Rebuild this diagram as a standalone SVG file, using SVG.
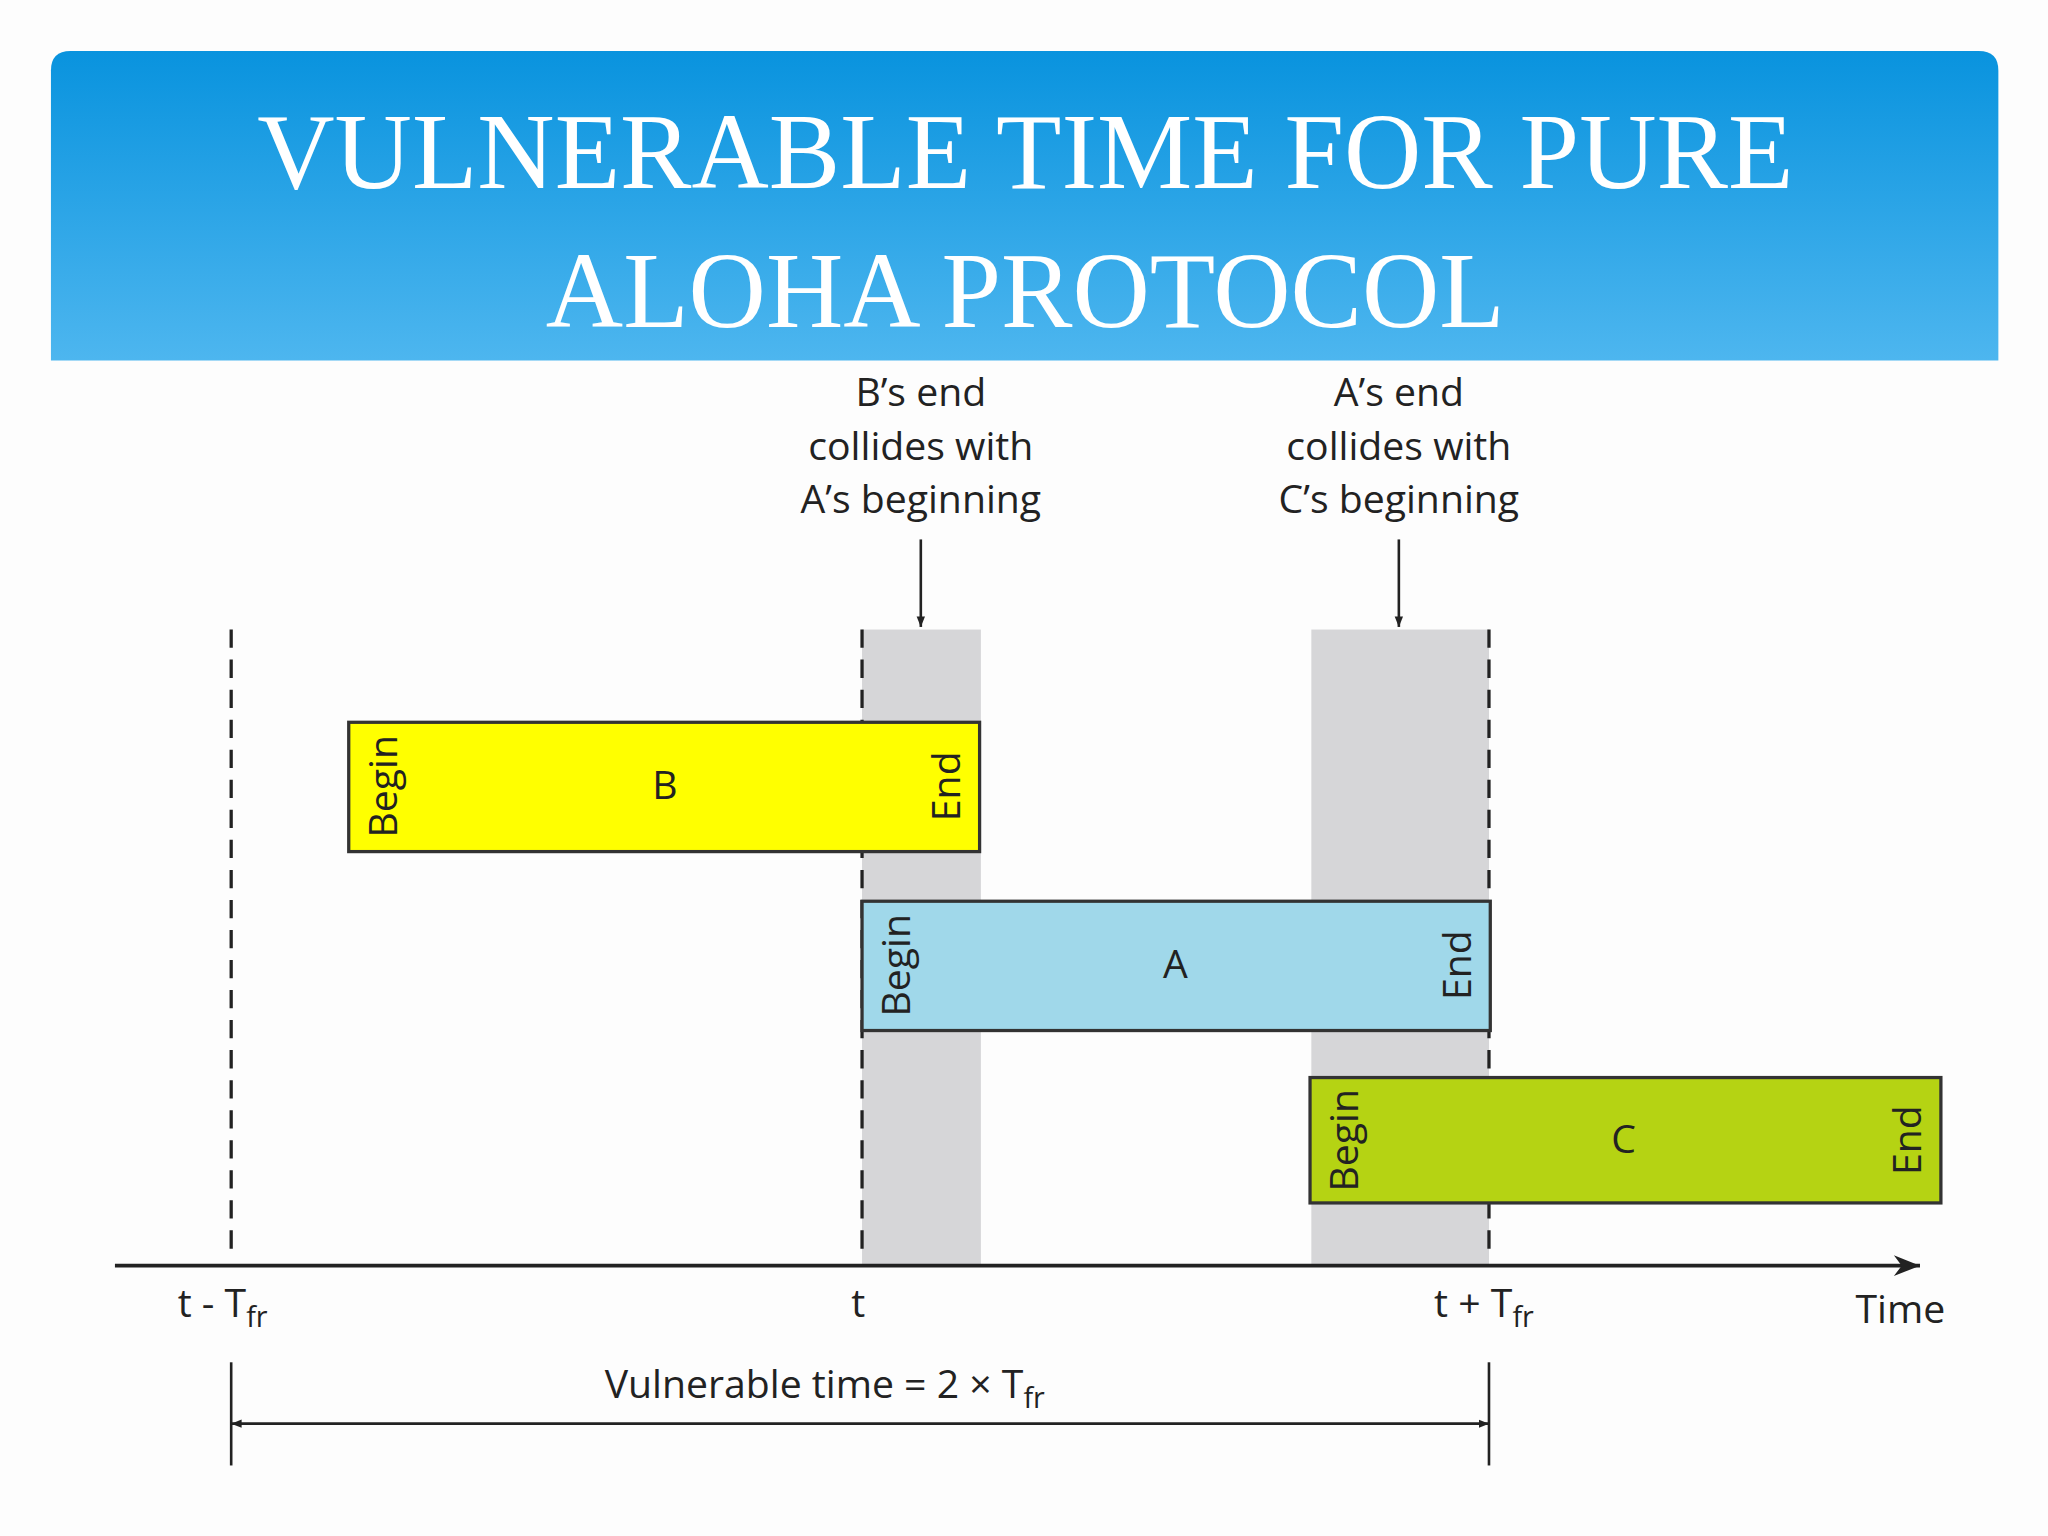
<svg xmlns="http://www.w3.org/2000/svg" width="2048" height="1536" viewBox="0 0 2048 1536">
<style>
.lbl{font-family:"Open Sans","Liberation Sans",sans-serif;font-size:30px;fill:#222}
.box{stroke:#333;stroke-width:2.5}
.dash{stroke:#222;stroke-width:2.5;stroke-dasharray:14,9;fill:none}
.ln{stroke:#222;stroke-width:2;fill:none}
</style>
<defs>
<linearGradient id="hg" x1="0" y1="0" x2="0" y2="1"><stop offset="0" stop-color="#0993de"/><stop offset="1" stop-color="#4db6ef"/></linearGradient>
<marker id="ar" viewBox="0 0 10 10" refX="10" refY="5" markerWidth="8" markerHeight="8" orient="auto-start-reverse" markerUnits="userSpaceOnUse"><path d="M0,1 L10,5 L0,9 z" fill="#222"/></marker>
<marker id="big" viewBox="0 0 10 10" refX="10" refY="5" markerWidth="30" markerHeight="20" orient="auto" markerUnits="userSpaceOnUse"><path d="M0,1 L10,5 L0,9 L3,5 z" fill="#222"/></marker>
</defs>
<rect width="2048" height="1536" fill="#fdfdfd"/>
<g transform="scale(1.30612)">
<g id="header">
<path d="M39,276 V54 Q39,39 54,39 H1515 Q1530,39 1530,54 V276 Z" fill="url(#hg)"/>
<text x="785" y="144" text-anchor="middle" font-family="Liberation Serif,serif" font-size="82" fill="#fff">VULNERABLE TIME FOR PURE</text>
<text x="785" y="250" text-anchor="middle" font-family="Liberation Serif,serif" font-size="82" fill="#fff">ALOHA PROTOCOL</text>
</g>
<g id="bands">
<rect x="660" y="482" width="91" height="487" fill="#d6d6d8"/>
<rect x="1004" y="482" width="136" height="487" fill="#d6d6d8"/>
</g>
<g id="guides">
<line class="dash" x1="177" y1="482" x2="177" y2="962"/>
<line class="dash" x1="660" y1="482" x2="660" y2="962"/>
<line class="dash" x1="1140" y1="482" x2="1140" y2="962"/>
</g>
<g id="frameB">
<rect class="box" x="267" y="553" width="483" height="99" fill="#ffff00"/>
<text class="lbl" transform="translate(304,602) rotate(-90)" text-anchor="middle">Begin</text>
<text class="lbl" x="509" y="612" text-anchor="middle">B</text>
<text class="lbl" transform="translate(735,602) rotate(-90)" text-anchor="middle">End</text>
</g>
<g id="frameA">
<rect class="box" x="660" y="690" width="481" height="99" fill="#a0d8ea"/>
<text class="lbl" transform="translate(697,739) rotate(-90)" text-anchor="middle">Begin</text>
<text class="lbl" x="900" y="749" text-anchor="middle">A</text>
<text class="lbl" transform="translate(1126,739) rotate(-90)" text-anchor="middle">End</text>
</g>
<g id="frameC">
<rect class="box" x="1003" y="825" width="483" height="96" fill="#b5d313"/>
<text class="lbl" transform="translate(1040,873) rotate(-90)" text-anchor="middle">Begin</text>
<text class="lbl" x="1243" y="883" text-anchor="middle">C</text>
<text class="lbl" transform="translate(1471,873) rotate(-90)" text-anchor="middle">End</text>
</g>
<g id="note1">
<text class="lbl" x="705" y="311" text-anchor="middle">B’s end</text>
<text class="lbl" x="705" y="352" text-anchor="middle">collides with</text>
<text class="lbl" x="705" y="393" text-anchor="middle">A’s beginning</text>
</g>
<g id="note2">
<text class="lbl" x="1071" y="311" text-anchor="middle">A’s end</text>
<text class="lbl" x="1071" y="352" text-anchor="middle">collides with</text>
<text class="lbl" x="1071" y="393" text-anchor="middle">C’s beginning</text>
</g>
<g id="axislabels">
<text class="lbl" x="136" y="1008">t - T<tspan font-size="22" dy="8">fr</tspan></text>
<text class="lbl" x="657" y="1008" text-anchor="middle">t</text>
<text class="lbl" x="1098" y="1008">t + T<tspan font-size="22" dy="8">fr</tspan></text>
<text class="lbl" x="1455" y="1013" text-anchor="middle">Time</text>
<text class="lbl" x="463" y="1070">Vulnerable time = 2 × T<tspan font-size="22" dy="8">fr</tspan></text>
</g>
<g id="connectors">
<line class="ln" x1="705" y1="413" x2="705" y2="480" marker-end="url(#ar)"/>
<line class="ln" x1="1071" y1="413" x2="1071" y2="480" marker-end="url(#ar)"/>
<line x1="88" y1="969" x2="1470" y2="969" stroke="#222" stroke-width="3" marker-end="url(#big)"/>
<line class="ln" x1="177" y1="1043" x2="177" y2="1122"/>
<line class="ln" x1="1140" y1="1043" x2="1140" y2="1122"/>
<line class="ln" x1="177" y1="1090" x2="1140" y2="1090" marker-start="url(#ar)" marker-end="url(#ar)"/>
</g>
</g>
</svg>
